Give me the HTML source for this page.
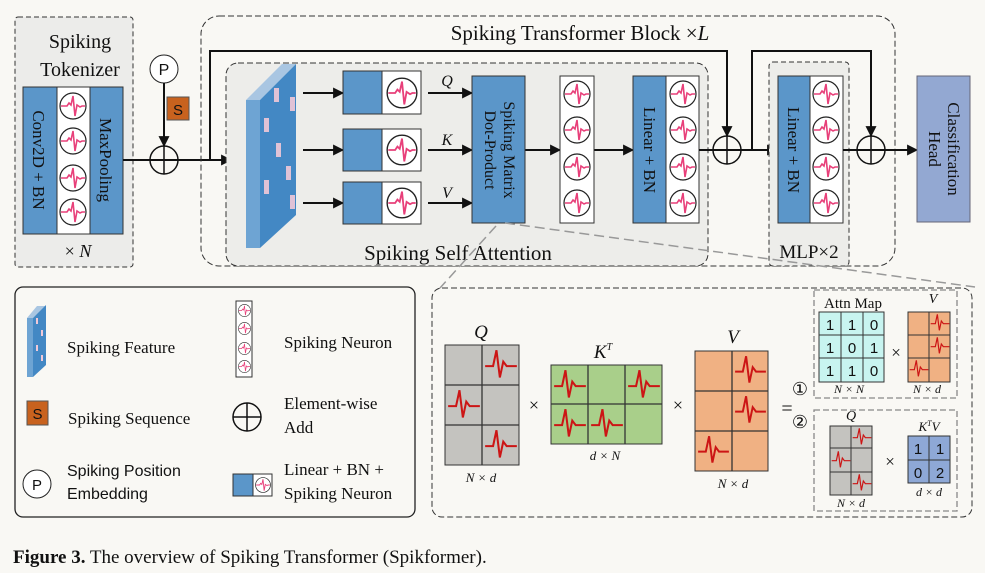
<!DOCTYPE html>
<html><head><meta charset="utf-8"><style>
html,body{margin:0;padding:0;background:#f9f8f4;}
svg{display:block;}
text{font-family:"Liberation Serif",serif;fill:#111;}
.s{font-family:"Liberation Sans",sans-serif;}
.i{font-style:italic;}
</style></head><body>
<svg width="985" height="573" viewBox="0 0 985 573" xmlns="http://www.w3.org/2000/svg">
<defs>
<symbol id="n" viewBox="-14 -14 28 28" overflow="visible">
<circle r="13" fill="#fff" stroke="#222" stroke-width="1.2"/>
<path d="M-12,0 L-6,0 L-4,-3 L-2,-1 L0,-10 L2,10 L4,-1 L7,1 L9,0 L12,0" fill="none" stroke="#e8407a" stroke-width="1.6"/>
</symbol>
<symbol id="sp" viewBox="0 0 30 30" overflow="visible">
<path d="M1,16 L8,16 L11,2 L14,26 L17,12 L20,16 L29,16" fill="none" stroke="#cc1515" stroke-width="1.8"/>
</symbol>
<marker id="a" viewBox="0 0 10 10" refX="9" refY="5" markerWidth="15" markerHeight="11" orient="auto" markerUnits="userSpaceOnUse"><path d="M0,0 L10,5 L0,10 z" fill="#111"/></marker>
</defs>

<!-- Tokenizer -->
<rect x="15" y="17" width="118" height="250" rx="3" fill="#ececea" stroke="#333" stroke-dasharray="5,3"/>
<text x="80" y="48" font-size="20" text-anchor="middle">Spiking</text>
<text x="80" y="76" font-size="20" text-anchor="middle">Tokenizer</text>
<rect x="23" y="87" width="34" height="147" fill="#5b96c9" stroke="#333"/>
<rect x="57" y="87" width="33" height="147" fill="#fff" stroke="#333"/>
<rect x="90" y="87" width="33" height="147" fill="#5b96c9" stroke="#333"/>
<use href="#n" x="59" y="92" width="28" height="28"/>
<use href="#n" x="59" y="127" width="28" height="28"/>
<use href="#n" x="59" y="164" width="28" height="28"/>
<use href="#n" x="59" y="198" width="28" height="28"/>
<text transform="translate(33,160) rotate(90)" font-size="17" text-anchor="middle">Conv2D + BN</text>
<text transform="translate(100,160) rotate(90)" font-size="17" text-anchor="middle">MaxPooling</text>
<text x="78" y="257" font-size="18" text-anchor="middle">× <tspan class="i">N</tspan></text>

<!-- P, S, plus -->
<circle cx="164" cy="69" r="14" fill="#fff" stroke="#222"/>
<text x="164" y="75" font-size="16" text-anchor="middle" class="s">P</text>
<rect x="167" y="97" width="22" height="23" fill="#c8621e" stroke="#555"/>
<text x="178" y="115" font-size="15" text-anchor="middle" class="s">S</text>
<line x1="164" y1="83" x2="164" y2="146" stroke="#111" stroke-width="2" marker-end="url(#a)"/>
<circle cx="164" cy="160" r="14" fill="none" stroke="#111" stroke-width="1.5"/>
<line x1="150" y1="160" x2="178" y2="160" stroke="#111" stroke-width="1.5"/>
<line x1="164" y1="146" x2="164" y2="174" stroke="#111" stroke-width="1.5"/>
<line x1="123" y1="160" x2="231" y2="160" stroke="#111" stroke-width="2" marker-end="url(#a)"/>

<!-- Transformer block -->
<rect x="201" y="16" width="694" height="250" rx="18" fill="none" stroke="#333" stroke-dasharray="6,3"/>
<text x="580" y="40" font-size="21" text-anchor="middle">Spiking Transformer Block ×<tspan class="i">L</tspan></text>
<path d="M210,160 L210,51 L727,51 L727,136" fill="none" stroke="#111" stroke-width="2" marker-end="url(#a)"/>

<!-- SSA -->
<rect x="226" y="63" width="482" height="203" rx="12" fill="#ededea" stroke="#333" stroke-dasharray="6,3"/>
<text x="458" y="260" font-size="21" text-anchor="middle">Spiking Self Attention</text>
<polygon points="246,100 282,64 296,64 260,100" fill="#a9c6e2"/>
<polygon points="246,100 260,100 260,248 246,248" fill="#6ea4d3"/>
<polygon points="260,100 296,64 296,215 260,248" fill="#4388c4"/>
<g fill="#f1c9d8" opacity="0.9">
<rect x="274" y="88" width="5" height="14"/><rect x="290" y="97" width="5" height="14"/>
<rect x="264" y="118" width="5" height="14"/><rect x="276" y="143" width="5" height="14"/>
<rect x="264" y="180" width="5" height="14"/><rect x="286" y="166" width="5" height="14"/>
<rect x="290" y="195" width="5" height="14"/>
</g>
<g stroke="#111" stroke-width="2" marker-end="url(#a)">
<line x1="303" y1="93" x2="343" y2="93"/><line x1="303" y1="150" x2="343" y2="150"/><line x1="303" y1="203" x2="343" y2="203"/>
<line x1="428" y1="93" x2="472" y2="93"/><line x1="428" y1="150" x2="472" y2="150"/><line x1="428" y1="203" x2="472" y2="203"/>
<line x1="525" y1="150" x2="560" y2="150"/><line x1="594" y1="150" x2="633" y2="150"/>
</g>
<g stroke="#333">
<rect x="343" y="71" width="39" height="43" fill="#5b96c9"/><rect x="382" y="71" width="39" height="43" fill="#fff"/>
<rect x="343" y="129" width="39" height="42" fill="#5b96c9"/><rect x="382" y="129" width="39" height="42" fill="#fff"/>
<rect x="343" y="182" width="39" height="42" fill="#5b96c9"/><rect x="382" y="182" width="39" height="42" fill="#fff"/>
</g>
<use href="#n" x="386" y="77" width="32" height="32"/>
<use href="#n" x="386" y="134" width="32" height="32"/>
<use href="#n" x="386" y="187" width="32" height="32"/>
<text x="447" y="86" font-size="16" class="i" text-anchor="middle">Q</text>
<text x="447" y="145" font-size="16" class="i" text-anchor="middle">K</text>
<text x="447" y="198" font-size="16" class="i" text-anchor="middle">V</text>
<rect x="472" y="76" width="53" height="147" fill="#5b96c9" stroke="#333"/>
<text transform="translate(504,150) rotate(90)" font-size="16" text-anchor="middle">Spiking Matrix</text>
<text transform="translate(485,150) rotate(90)" font-size="16" text-anchor="middle">Dot-Product</text>
<rect x="560" y="76" width="34" height="147" fill="#fff" stroke="#333"/>
<use href="#n" x="563" y="80" width="28" height="28"/><use href="#n" x="563" y="116" width="28" height="28"/>
<use href="#n" x="563" y="153" width="28" height="28"/><use href="#n" x="563" y="189" width="28" height="28"/>
<rect x="633" y="76" width="33" height="147" fill="#5b96c9" stroke="#333"/>
<rect x="666" y="76" width="33" height="147" fill="#fff" stroke="#333"/>
<use href="#n" x="669" y="80" width="28" height="28"/><use href="#n" x="669" y="116" width="28" height="28"/>
<use href="#n" x="669" y="153" width="28" height="28"/><use href="#n" x="669" y="189" width="28" height="28"/>
<text transform="translate(644,150) rotate(90)" font-size="17" text-anchor="middle">Linear + BN</text>

<!-- plus 1 -->
<line x1="699" y1="150" x2="741" y2="150" stroke="#111" stroke-width="2"/>
<circle cx="727" cy="150" r="14" fill="none" stroke="#111" stroke-width="1.5"/>
<line x1="727" y1="136" x2="727" y2="164" stroke="#111" stroke-width="1.5"/>
<line x1="741" y1="150" x2="777" y2="150" stroke="#111" stroke-width="2" marker-end="url(#a)"/>
<path d="M752,150 L752,51 L871,51 L871,136" fill="none" stroke="#111" stroke-width="2" marker-end="url(#a)"/>

<!-- MLP -->
<rect x="769" y="62" width="80" height="204" rx="4" fill="#ededea" stroke="#333" stroke-dasharray="5,3"/>
<rect x="778" y="76" width="32" height="147" fill="#5b96c9" stroke="#333"/>
<rect x="810" y="76" width="33" height="147" fill="#fff" stroke="#333"/>
<use href="#n" x="812" y="80" width="28" height="28"/><use href="#n" x="812" y="116" width="28" height="28"/>
<use href="#n" x="812" y="153" width="28" height="28"/><use href="#n" x="812" y="189" width="28" height="28"/>
<text transform="translate(788,150) rotate(90)" font-size="17" text-anchor="middle">Linear + BN</text>
<text x="809" y="258" font-size="19" text-anchor="middle">MLP×2</text>
<line x1="843" y1="150" x2="917" y2="150" stroke="#111" stroke-width="2" marker-end="url(#a)"/>
<circle cx="871" cy="150" r="14" fill="none" stroke="#111" stroke-width="1.5"/>
<line x1="871" y1="136" x2="871" y2="164" stroke="#111" stroke-width="1.5"/>
<rect x="917" y="76" width="53" height="146" fill="#93a8d2" stroke="#667"/>
<text transform="translate(948,149) rotate(90)" font-size="17" text-anchor="middle">Classification</text>
<text transform="translate(929,149) rotate(90)" font-size="17" text-anchor="middle">Head</text>

<!-- zoom lines -->
<line x1="496" y1="226" x2="440" y2="288" stroke="#999" stroke-width="1.5" stroke-dasharray="10,5"/>
<line x1="505" y1="223" x2="975" y2="287" stroke="#999" stroke-width="1.5" stroke-dasharray="10,5"/>

<!-- Legend -->
<rect x="15" y="287" width="400" height="230" rx="8" fill="none" stroke="#222" stroke-width="1.3"/>
<polygon points="27,318 37,306 46,306 33,318" fill="#a9c6e2"/>
<polygon points="27,318 33,318 33,377 27,377" fill="#6ea4d3"/>
<polygon points="33,318 46,305 46,365 33,377" fill="#4388c4"/>
<g fill="#f1c9d8"><rect x="36" y="318" width="2" height="6"/><rect x="41" y="330" width="2" height="6"/><rect x="36" y="345" width="2" height="6"/><rect x="41" y="355" width="2" height="6"/></g>
<text x="67" y="353" font-size="17">Spiking Feature</text>
<rect x="236" y="301" width="16" height="76" fill="#fff" stroke="#333"/>
<use href="#n" x="238" y="304" width="13" height="13"/><use href="#n" x="238" y="322" width="13" height="13"/>
<use href="#n" x="238" y="342" width="13" height="13"/><use href="#n" x="238" y="360" width="13" height="13"/>
<text x="284" y="348" font-size="17">Spiking Neuron</text>
<rect x="27" y="401" width="21" height="24" fill="#c8621e" stroke="#555"/>
<text x="37.5" y="419" font-size="15" class="s" text-anchor="middle">S</text>
<text x="68" y="424" font-size="17">Spiking Sequence</text>
<circle cx="247" cy="417" r="14" fill="none" stroke="#111" stroke-width="1.5"/>
<line x1="233" y1="417" x2="261" y2="417" stroke="#111" stroke-width="1.5"/>
<line x1="247" y1="403" x2="247" y2="431" stroke="#111" stroke-width="1.5"/>
<text x="284" y="409" font-size="17">Element-wise</text>
<text x="284" y="433" font-size="17">Add</text>
<circle cx="37" cy="484" r="14" fill="#fff" stroke="#222"/>
<text x="37" y="490" font-size="15" class="s" text-anchor="middle">P</text>
<text x="67" y="476" font-size="16" class="s">Spiking Position</text>
<text x="67" y="499" font-size="16" class="s">Embedding</text>
<rect x="233" y="474" width="20" height="22" fill="#5b96c9" stroke="#333"/>
<rect x="253" y="474" width="19" height="22" fill="#fff" stroke="#333"/>
<use href="#n" x="255" y="477" width="16" height="16"/>
<text x="284" y="475" font-size="17">Linear + BN +</text>
<text x="284" y="499" font-size="17">Spiking Neuron</text>

<!-- Matrix panel -->
<rect x="432" y="288" width="540" height="229" rx="10" fill="none" stroke="#333" stroke-dasharray="6,3"/>
<rect x="445" y="345" width="74" height="120" fill="#c4c3bf" stroke="#333"/>
<g stroke="#333" stroke-width="1.3"><line x1="482" y1="345" x2="482" y2="465"/><line x1="445" y1="385" x2="519" y2="385"/><line x1="445" y1="425" x2="519" y2="425"/></g>
<use href="#sp" x="484" y="348" width="34" height="34"/><use href="#sp" x="447" y="388" width="34" height="34"/><use href="#sp" x="484" y="428" width="34" height="34"/>
<text x="481" y="338" font-size="19" class="i" text-anchor="middle">Q</text>
<text x="481" y="482" font-size="13" class="i" text-anchor="middle">N × d</text>
<text x="534" y="411" font-size="18" text-anchor="middle">×</text>
<rect x="551" y="365" width="111" height="79" fill="#a9cf8a" stroke="#333"/>
<g stroke="#333" stroke-width="1.3"><line x1="588" y1="365" x2="588" y2="444"/><line x1="625" y1="365" x2="625" y2="444"/><line x1="551" y1="404" x2="662" y2="404"/></g>
<use href="#sp" x="553" y="368" width="34" height="34"/><use href="#sp" x="627" y="368" width="34" height="34"/>
<use href="#sp" x="553" y="407" width="34" height="34"/><use href="#sp" x="590" y="407" width="34" height="34"/>
<text x="603" y="358" font-size="19" class="i" text-anchor="middle">K<tspan font-size="10" dy="-8">T</tspan></text>
<text x="605" y="460" font-size="13" class="i" text-anchor="middle">d × N</text>
<text x="678" y="411" font-size="18" text-anchor="middle">×</text>
<rect x="695" y="351" width="73" height="120" fill="#f0b183" stroke="#333"/>
<g stroke="#333" stroke-width="1.3"><line x1="732" y1="351" x2="732" y2="471"/><line x1="695" y1="391" x2="768" y2="391"/><line x1="695" y1="431" x2="768" y2="431"/></g>
<use href="#sp" x="734" y="354" width="33" height="33"/><use href="#sp" x="734" y="394" width="33" height="33"/><use href="#sp" x="697" y="434" width="33" height="33"/>
<text x="733" y="343" font-size="19" class="i" text-anchor="middle">V</text>
<text x="733" y="488" font-size="13" class="i" text-anchor="middle">N × d</text>
<text x="787" y="415" font-size="20" text-anchor="middle">=</text>
<text x="800" y="395" font-size="18" text-anchor="middle">①</text>
<text x="800" y="428" font-size="18" text-anchor="middle">②</text>
<rect x="814" y="290" width="143" height="108" fill="none" stroke="#888" stroke-width="1.3" stroke-dasharray="6,3"/>
<text x="853" y="308" font-size="15" text-anchor="middle">Attn Map</text>
<rect x="819" y="312" width="65" height="70" fill="#c8f4f0" stroke="#333"/>
<g stroke="#333"><line x1="841" y1="312" x2="841" y2="382"/><line x1="863" y1="312" x2="863" y2="382"/><line x1="819" y1="335" x2="884" y2="335"/><line x1="819" y1="358" x2="884" y2="358"/></g>
<g font-size="15" text-anchor="middle">
<text x="830" y="330" class="s">1</text><text x="852" y="330" class="s">1</text><text x="874" y="330" class="s">0</text>
<text x="830" y="353" class="s">1</text><text x="852" y="353" class="s">0</text><text x="874" y="353" class="s">1</text>
<text x="830" y="376" class="s">1</text><text x="852" y="376" class="s">1</text><text x="874" y="376" class="s">0</text>
</g>
<text x="896" y="358" font-size="17" text-anchor="middle">×</text>
<rect x="908" y="312" width="42" height="70" fill="#f0b183" stroke="#333"/>
<g stroke="#333"><line x1="929" y1="312" x2="929" y2="382"/><line x1="908" y1="335" x2="950" y2="335"/><line x1="908" y1="358" x2="950" y2="358"/></g>
<use href="#sp" x="930" y="313" width="20" height="20"/><use href="#sp" x="930" y="336" width="20" height="20"/><use href="#sp" x="909" y="359" width="20" height="20"/>
<text x="933" y="303" font-size="14" class="i" text-anchor="middle">V</text>
<text x="849" y="393" font-size="12" class="i" text-anchor="middle">N × N</text>
<text x="927" y="393" font-size="12" class="i" text-anchor="middle">N × d</text>
<rect x="814" y="410" width="143" height="101" fill="none" stroke="#888" stroke-width="1.3" stroke-dasharray="6,3"/>
<rect x="830" y="426" width="42" height="69" fill="#c4c3bf" stroke="#333"/>
<g stroke="#333"><line x1="851" y1="426" x2="851" y2="495"/><line x1="830" y1="448" x2="872" y2="448"/><line x1="830" y1="472" x2="872" y2="472"/></g>
<use href="#sp" x="852" y="427" width="20" height="20"/><use href="#sp" x="831" y="450" width="20" height="20"/><use href="#sp" x="852" y="473" width="20" height="20"/>
<text x="851" y="420" font-size="14" class="i" text-anchor="middle">Q</text>
<text x="851" y="507" font-size="12" class="i" text-anchor="middle">N × d</text>
<text x="890" y="467" font-size="17" text-anchor="middle">×</text>
<rect x="908" y="436" width="42" height="47" fill="#8ea8d6" stroke="#333"/>
<g stroke="#333"><line x1="929" y1="436" x2="929" y2="483"/><line x1="908" y1="460" x2="950" y2="460"/></g>
<g font-size="15" text-anchor="middle">
<text x="918" y="454" class="s">1</text><text x="940" y="454" class="s">1</text>
<text x="918" y="478" class="s">0</text><text x="940" y="478" class="s">2</text>
</g>
<text x="929" y="431" font-size="13" class="i" text-anchor="middle">K<tspan font-size="8" dy="-5">T</tspan><tspan dy="5">V</tspan></text>
<text x="929" y="496" font-size="12" class="i" text-anchor="middle">d × d</text>

<text x="13" y="563" font-size="19"><tspan font-weight="bold">Figure 3.</tspan>  The overview of Spiking Transformer (Spikformer).</text>
</svg>
</body></html>
